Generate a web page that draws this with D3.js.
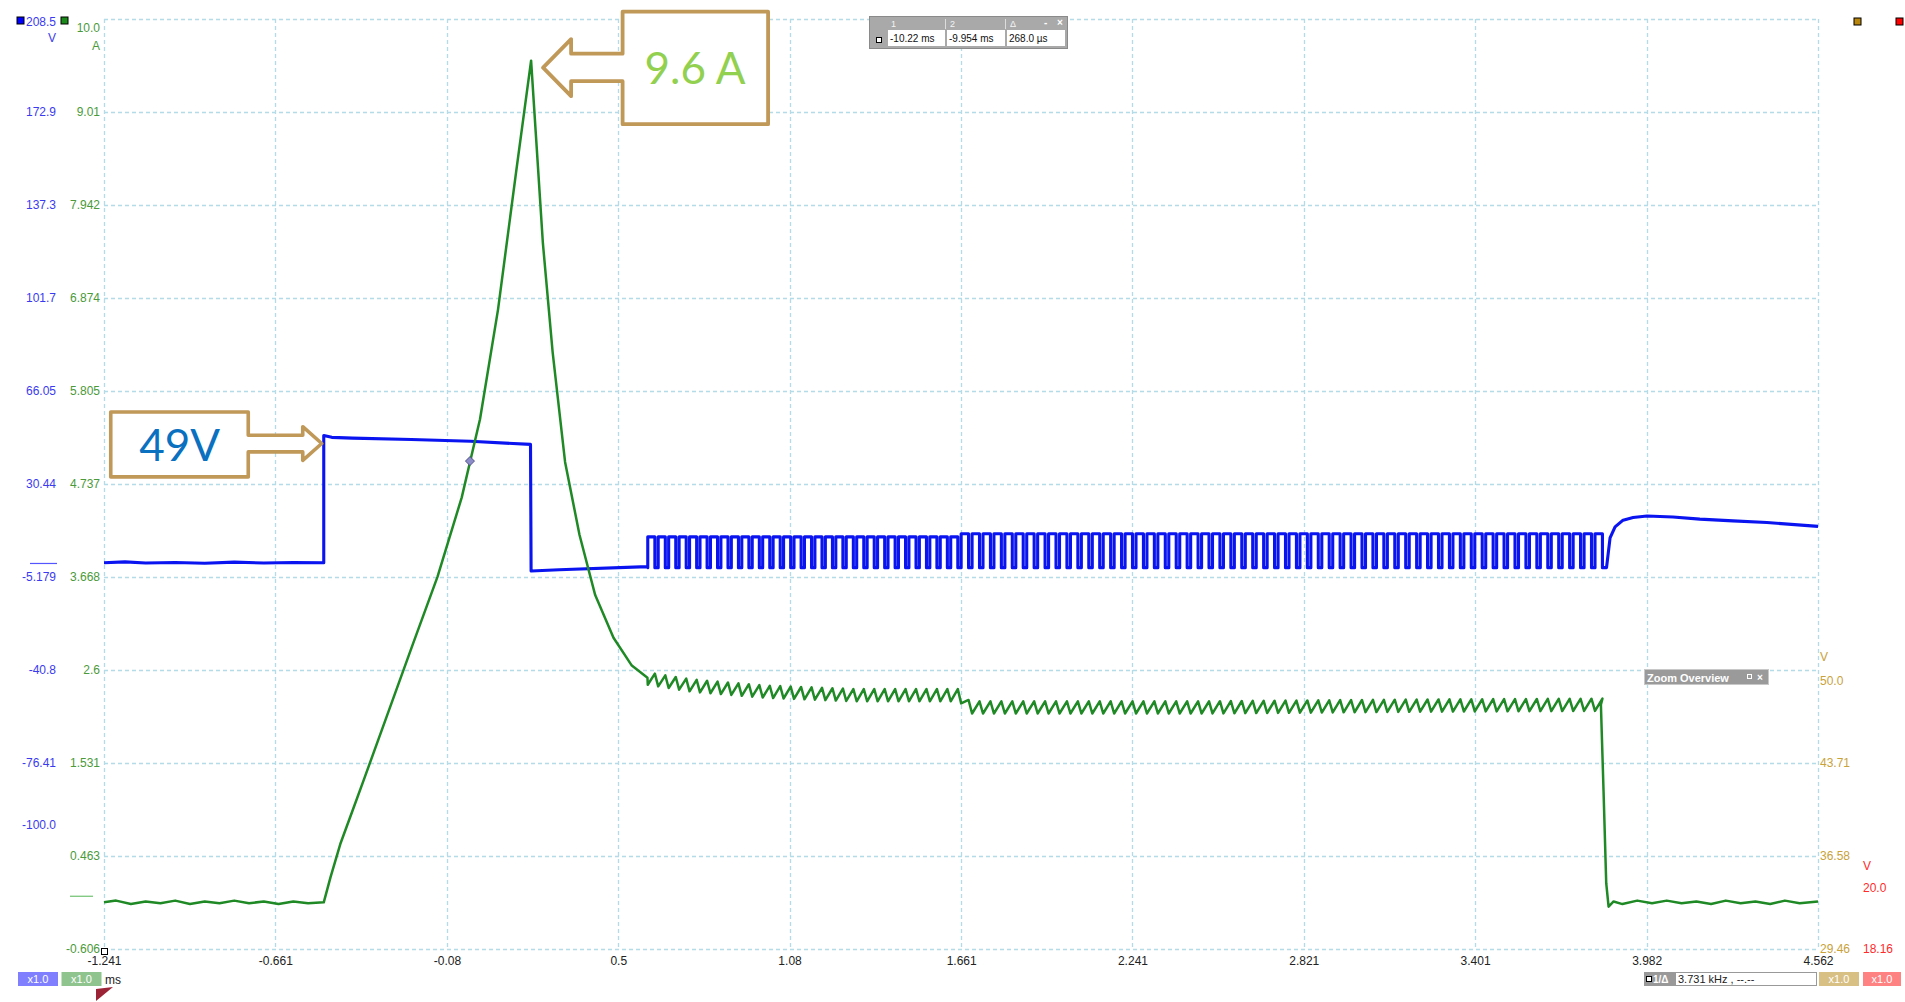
<!DOCTYPE html>
<html><head><meta charset="utf-8">
<script src="https://cdn.jsdelivr.net/npm/d3@7"></script>
<style>
html,body{margin:0;padding:0;background:#fff;overflow:hidden}
svg{display:block;font-family:"Liberation Sans",Arial,sans-serif}
</style></head><body>
<svg id="scope" width="1905" height="1002"></svg>
<script>
// ---- axis labels ----
const timeTicks = [-1.241, -0.661, -0.08, 0.5, 1.08, 1.661, 2.241, 2.821, 3.401, 3.982, 4.562];
const timeTickLabels = ["-1.241", "-0.661", "-0.08", "0.5", "1.08", "1.661", "2.241", "2.821", "3.401", "3.982", "4.562"];
const voltTicks = [208.5, 172.9, 137.3, 101.7, 66.05, 30.44, -5.179, -40.8, -76.41, -100.0];
const voltTickLabels = ["208.5", "172.9", "137.3", "101.7", "66.05", "30.44", "-5.179", "-40.8", "-76.41", "-100.0"];
const ampTicks = [10.079, 9.01, 7.942, 6.874, 5.805, 4.737, 3.668, 2.6, 1.531, 0.463, -0.606];
const ampTickLabels = ["10.0", "9.01", "7.942", "6.874", "5.805", "4.737", "3.668", "2.6", "1.531", "0.463", "-0.606"];
const chCTicks = [50.0, 43.71, 36.58, 29.46];
const chCTickLabels = ["50.0", "43.71", "36.58", "29.46"];
const chDTicks = [20.0, 18.16];
const chDTickLabels = ["20.0", "18.16"];

// ---- channel A (V): idle, conduction, switching burst, recovery ----
const chAIdle = [[-1.241, 0.3], [-1.17, 0.6], [-1.1, 0.2], [-1.0, 0.4], [-0.9, 0.1], [-0.8, 0.5], [-0.7, 0.2], [-0.6, 0.4], [-0.497, 0.3]];
const chAOn = [[-0.497, 49.0], [-0.47, 48.3], [-0.4, 48.0], [-0.2, 47.5], [0.0, 46.8], [0.203, 45.6], [0.205, -2.9], [0.3, -2.4], [0.599, -1.2]];
const chABursts = [
  { start: 0.600, end: 1.661, pulses: 30, high: 10.2, low: -1.6 },
  { start: 1.661, end: 3.844, pulses: 59, high: 11.4, low: -1.6 }
];
const chADuty = 0.68;
const chARecovery = [[3.846, -1.6], [3.858, 9.8], [3.875, 14.0], [3.902, 16.6], [3.936, 17.6], [3.983, 18.2],
  [4.071, 17.8], [4.162, 17.0], [4.274, 16.3], [4.389, 15.7], [4.562, 14.2]];

// ---- channel B (A): idle, ramp to peak, decay, ripple, off ----
const chBIdle = [[-1.241, -0.07], [-1.2, -0.05], [-1.15, -0.09], [-1.1, -0.06], [-1.05, -0.08], [-1.0, -0.05],
  [-0.95, -0.09], [-0.9, -0.06], [-0.85, -0.08], [-0.8, -0.05], [-0.75, -0.08], [-0.7, -0.06], [-0.65, -0.09],
  [-0.6, -0.06], [-0.55, -0.08], [-0.497, -0.07]];
const chBRamp = [[-0.474, 0.22], [-0.441, 0.6], [-0.40, 0.98], [-0.359, 1.36], [-0.277, 2.13], [-0.195, 2.9],
  [-0.112, 3.67], [-0.030, 4.58], [0.032, 5.48], [0.093, 6.74], [0.155, 8.34], [0.205, 9.6]];
const chBDecay = [[0.221, 8.76], [0.245, 7.5], [0.278, 6.25], [0.320, 4.99], [0.369, 4.15], [0.422, 3.46],
  [0.484, 2.97], [0.546, 2.65], [0.599, 2.51]];
const chBLevel = [[0.600, 2.50], [0.75, 2.42], [1.0, 2.35], [1.3, 2.31], [1.655, 2.31], [1.69, 2.17],
  [2.5, 2.17], [3.2, 2.19], [3.827, 2.20]];
const chBRipple = 0.07;
const chBOff = [[3.836, 1.2], [3.845, 0.15], [3.853, -0.12], [3.87, -0.06], [3.9, -0.09], [3.95, -0.05],
  [4.0, -0.08], [4.05, -0.05], [4.1, -0.08], [4.15, -0.06], [4.2, -0.09], [4.25, -0.05], [4.3, -0.08],
  [4.35, -0.06], [4.4, -0.09], [4.45, -0.05], [4.5, -0.08], [4.562, -0.06]];

// callout values
const peakCurrent = 9.6;
const onVoltage = 49;

// ---- scales ----
const L = 104, R = 1818, T = 19, B = 949;
const x = d3.scaleLinear().domain([-1.241, 4.562]).range([L, R]);
const yV = d3.scaleLinear().domain([208.5 - 10 * 35.613, 208.5]).range([B, T]);
const yA = d3.scaleLinear().domain([-0.606, 10.079]).range([B, T]);
const yC = d3.scaleLinear().domain([29.46, 29.46 + 10 * 7.123]).range([B, T]);
const yD = d3.scaleLinear().domain([18.16, 18.16 + 10 * 2.805]).range([B, T]);

const svg = d3.select("#scope");

// ---- grid ----
const grid = svg.append("g").attr("stroke", "#b4dbe8").attr("stroke-width", 1.3).attr("stroke-dasharray", "4,3");
grid.selectAll("line.h").data(ampTicks).join("line")
  .attr("x1", L).attr("x2", R).attr("y1", d => Math.round(yA(d)) + 0.5).attr("y2", d => Math.round(yA(d)) + 0.5);
grid.selectAll("line.v").data(timeTicks).join("line")
  .attr("y1", T).attr("y2", B).attr("x1", d => Math.round(x(d)) + 0.5).attr("x2", d => Math.round(x(d)) + 0.5);

// ---- axes ----
function styleAxis(g, color, anchor) {
  g.select(".domain").remove();
  g.selectAll(".tick line").remove();
  g.selectAll("text").attr("fill", color).attr("font-size", 12).attr("font-family", "Liberation Sans, Arial, sans-serif");
  if (anchor) g.selectAll("text").attr("text-anchor", anchor);
}
svg.append("g").attr("transform", `translate(0,${B})`)
  .call(d3.axisBottom(x).tickValues(timeTicks).tickFormat((d, i) => timeTickLabels[i]).tickSize(0).tickPadding(7))
  .call(g => styleAxis(g, "#222"));
svg.append("g").attr("transform", "translate(56,0)")
  .call(d3.axisLeft(yV).tickValues(voltTicks).tickFormat((d, i) => voltTickLabels[i]).tickSize(0).tickPadding(0))
  .call(g => styleAxis(g, "#3a3af0"))
  .call(g => g.selectAll(".tick").filter(d => d === 208.5).select("text").attr("dy", "0.55em"));
svg.append("g").attr("transform", "translate(100,0)")
  .call(d3.axisLeft(yA).tickValues(ampTicks).tickFormat((d, i) => ampTickLabels[i]).tickSize(0).tickPadding(0))
  .call(g => styleAxis(g, "#4a9a3a"))
  .call(g => g.selectAll(".tick").filter(d => d === 10.079).select("text").attr("dy", "1.05em"));
svg.append("g").attr("transform", "translate(1820,0)")
  .call(d3.axisRight(yC).tickValues(chCTicks).tickFormat((d, i) => chCTickLabels[i]).tickSize(0).tickPadding(0))
  .call(g => styleAxis(g, "#c9a23a"));
svg.append("g").attr("transform", "translate(1863,0)")
  .call(d3.axisRight(yD).tickValues(chDTicks).tickFormat((d, i) => chDTickLabels[i]).tickSize(0).tickPadding(0))
  .call(g => styleAxis(g, "#ff2a2a"));

// unit labels
const units = [
  { t: "V", x: 56, y: 42, c: "#3a3af0", a: "end" },
  { t: "A", x: 100, y: 50, c: "#4a9a3a", a: "end" },
  { t: "V", x: 1820, y: 661, c: "#c9a23a", a: "start" },
  { t: "V", x: 1863, y: 870, c: "#ff2a2a", a: "start" },
  { t: "ms", x: 105, y: 984, c: "#222", a: "start" }
];
svg.append("g").selectAll("text").data(units).join("text")
  .attr("x", d => d.x).attr("y", d => d.y).attr("fill", d => d.c).attr("text-anchor", d => d.a)
  .attr("font-size", 12).text(d => d.t);

// channel squares
const chips = [
  { x: 17, y: 17, c: "#0000ff" }, { x: 61, y: 17, c: "#1a8a1a" },
  { x: 1854, y: 18, c: "#b8860b" }, { x: 1896, y: 18, c: "#ff0000" }
];
svg.append("g").selectAll("rect").data(chips).join("rect")
  .attr("x", d => d.x).attr("y", d => d.y).attr("width", 7).attr("height", 7)
  .attr("fill", d => d.c).attr("stroke", "#000").attr("stroke-width", 1);

// zero-level markers
svg.append("line").attr("x1", 30).attr("x2", 57).attr("y1", yV(0)).attr("y2", yV(0)).attr("stroke", "#5555ff").attr("stroke-width", 1.2);
svg.append("line").attr("x1", 70).attr("x2", 93).attr("y1", yA(0)).attr("y2", yA(0)).attr("stroke", "#70c070").attr("stroke-width", 1.2);

// ---- build traces ----
const edges = [];
chABursts.forEach(b => {
  const P = (b.end - b.start) / b.pulses;
  for (let k = 0; k < b.pulses; k++) {
    const s = b.start + k * P;
    edges.push({ rise: s, fall: s + chADuty * P, high: b.high, low: b.low });
  }
});
const chAPts = [...chAIdle, ...chAOn];
edges.forEach(e => chAPts.push([e.rise, e.low], [e.rise, e.high], [e.fall, e.high], [e.fall, e.low]));
chAPts.push(...chARecovery);

const level = d3.scaleLinear().domain(chBLevel.map(d => d[0])).range(chBLevel.map(d => d[1])).clamp(true);
const chBPts = [...chBIdle, ...chBRamp, ...chBDecay];
edges.forEach(e => chBPts.push([e.rise, level(e.rise) - chBRipple], [e.fall, level(e.fall) + chBRipple]));
chBPts.push([3.827, level(3.827)], ...chBOff);

const line = yScale => d3.line().x(d => x(d[0])).y(d => yScale(d[1]));

svg.append("path").attr("d", line(yV)(chAPts)).attr("fill", "none").attr("stroke", "#0a14f0")
  .attr("stroke-width", 3.1).attr("stroke-linejoin", "round");
svg.append("path").attr("d", line(yA)(chBPts)).attr("fill", "none").attr("stroke", "#1f8a25")
  .attr("stroke-width", 2.5).attr("stroke-linejoin", "round");

// cursor marker on the ramp
const mk = [x(-0.002), yA(5.0)];
svg.append("path").attr("d", `M${mk[0]},${mk[1] - 4.5}L${mk[0] + 4.5},${mk[1]}L${mk[0]},${mk[1] + 4.5}L${mk[0] - 4.5},${mk[1]}Z`)
  .attr("fill", "#8c8cc8").attr("stroke", "#50508a").attr("stroke-width", 1);

// ---- callouts ----
const calloutStroke = "#c09858";
// right-pointing: tip just left of the voltage step
{
  const tx = x(-0.497) - 2, ty = yV(onVoltage) + 8;
  const p = [[tx - 211, ty - 31.5], [tx - 73.5, ty - 31.5], [tx - 73.5, ty - 8.3], [tx - 19, ty - 8.3], [tx - 19, ty - 16.8],
    [tx, ty], [tx - 19, ty + 16.8], [tx - 19, ty + 8.4], [tx - 73.5, ty + 8.4], [tx - 73.5, ty + 33.4], [tx - 211, ty + 33.4]];
  svg.append("path").attr("d", "M" + p.join("L") + "Z").attr("fill", "#fff").attr("stroke", calloutStroke)
    .attr("stroke-width", 3.6).attr("stroke-linejoin", "round");
  svg.append("text").attr("x", tx - 142).attr("y", ty + 17).attr("text-anchor", "middle")
    .attr("font-family", "Lato, 'Noto Sans', sans-serif").attr("font-size", 44).attr("fill", "#0a70c0")
    .text(onVoltage + "V");
}
// left-pointing: tip just right of the current peak
{
  const tx = x(0.205) + 12, ty = yA(peakCurrent) + 7;
  const p = [[tx, ty], [tx + 28, ty - 28.5], [tx + 28, ty - 14], [tx + 79.5, ty - 14], [tx + 79.5, ty - 56], [tx + 225, ty - 56],
    [tx + 225, ty + 56.5], [tx + 79.5, ty + 56.5], [tx + 79.5, ty + 13.5], [tx + 28, ty + 13.5], [tx + 28, ty + 28.5]];
  svg.append("path").attr("d", "M" + p.join("L") + "Z").attr("fill", "#fff").attr("stroke", calloutStroke)
    .attr("stroke-width", 3.8).attr("stroke-linejoin", "round");
  svg.append("text").attr("x", tx + 152).attr("y", ty + 16).attr("text-anchor", "middle")
    .attr("font-family", "Lato, 'Noto Sans', sans-serif").attr("font-size", 44).attr("fill", "#92d050")
    .text(peakCurrent.toFixed(1) + " A");
}

// ---- cursor readout ----
const ro = svg.append("g");
ro.append("rect").attr("x", 869.5).attr("y", 16.5).attr("width", 198).attr("height", 32).attr("fill", "#a9a9a9").attr("stroke", "#8a8a8a");
const cells = [{ x: 888, w: 57, h: "1", v: "-10.22 ms" }, { x: 947, w: 58, h: "2", v: "-9.954 ms" }, { x: 1007, w: 58, h: "Δ", v: "268.0 µs" }];
ro.selectAll("rect.c").data(cells).join("rect").attr("x", d => d.x).attr("y", 30).attr("width", d => d.w).attr("height", 16).attr("fill", "#fff");
ro.selectAll("line.s").data(cells.slice(1)).join("line").attr("x1", d => d.x - 1.5).attr("x2", d => d.x - 1.5).attr("y1", 19).attr("y2", 29).attr("stroke", "#ddd");
ro.selectAll("text.h").data(cells).join("text").attr("x", d => d.x + 3).attr("y", 27).attr("font-size", 9).attr("fill", "#f4f4f4").text(d => d.h);
ro.selectAll("text.v").data(cells).join("text").attr("x", d => d.x + 2).attr("y", 42).attr("font-size", 10).attr("fill", "#111").text(d => d.v);
ro.append("rect").attr("x", 876.5).attr("y", 37.5).attr("width", 5).attr("height", 5).attr("fill", "#fff").attr("stroke", "#000");
ro.append("text").attr("x", 1044).attr("y", 26).attr("font-size", 10).attr("font-weight", "bold").attr("fill", "#fff").text("-");
ro.append("text").attr("x", 1057).attr("y", 26).attr("font-size", 10).attr("font-weight", "bold").attr("fill", "#fff").text("×");

// ---- zoom overview tab ----
const zo = svg.append("g");
zo.append("rect").attr("x", 1644.5).attr("y", 669.5).attr("width", 124).attr("height", 15).attr("fill", "#9a9a9a").attr("stroke", "#c8c8c8");
zo.append("text").attr("x", 1647).attr("y", 682).attr("font-size", 11).attr("font-weight", "bold").attr("fill", "#fff").text("Zoom Overview");
zo.append("rect").attr("x", 1747.5).attr("y", 674.5).attr("width", 4).attr("height", 4).attr("fill", "none").attr("stroke", "#fff");
zo.append("text").attr("x", 1757).attr("y", 681).attr("font-size", 10).attr("font-weight", "bold").attr("fill", "#fff").text("×");

// ---- bottom strip ----
const badges = [
  { x: 18, w: 40, c: "#8080ff" }, { x: 61.5, w: 40, c: "#8fc48f" },
  { x: 1819, w: 40, c: "#d8c084" }, { x: 1863, w: 38, c: "#ff8282" }
];
const bg = svg.append("g");
bg.selectAll("rect").data(badges).join("rect").attr("x", d => d.x).attr("y", 972).attr("width", d => d.w).attr("height", 14).attr("fill", d => d.c);
bg.selectAll("text").data(badges).join("text").attr("x", d => d.x + d.w / 2).attr("y", 983).attr("text-anchor", "middle")
  .attr("font-size", 11).attr("fill", "#fff").text("x1.0");

const fq = svg.append("g");
fq.append("rect").attr("x", 1644).attr("y", 972).attr("width", 31).attr("height", 14).attr("fill", "#999");
fq.append("rect").attr("x", 1675.5).attr("y", 972.5).attr("width", 141).attr("height", 13).attr("fill", "#fff").attr("stroke", "#999");
fq.append("rect").attr("x", 1646.5).attr("y", 976.5).attr("width", 5).attr("height", 5).attr("fill", "#fff").attr("stroke", "#000");
fq.append("text").attr("x", 1653).attr("y", 983).attr("font-size", 10).attr("font-weight", "bold").attr("fill", "#fff").text("1/Δ");
fq.append("text").attr("x", 1678).attr("y", 983).attr("font-size", 11).attr("fill", "#222").text("3.731 kHz , --.--");

// origin marker and trigger flag
svg.append("rect").attr("x", 101.5).attr("y", 948.5).attr("width", 6).attr("height", 6).attr("fill", "#fff").attr("stroke", "#000");
svg.append("path").attr("d", "M96,989L113,987L96,1001Z").attr("fill", "#9b2335");
</script>
</body></html>
